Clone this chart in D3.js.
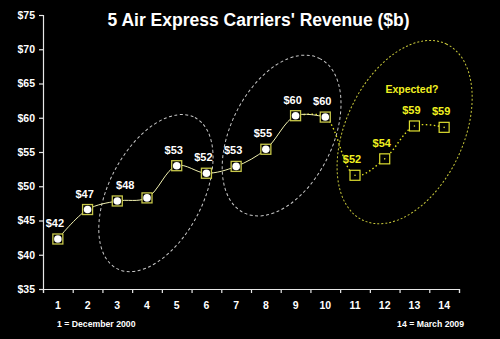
<!DOCTYPE html>
<html>
<head>
<meta charset="utf-8">
<script src="https://cdn.jsdelivr.net/npm/d3@7"></script>
<style>
  html, body { margin: 0; padding: 0; background: #000; }
  svg { display: block; }
</style>
</head>
<body>
<svg id="chart" width="500" height="339"></svg>
<script>
// Periods 1..14 (1 = December 2000, 14 = March 2009)
const periods = [1, 2, 3, 4, 5, 6, 7, 8, 9, 10, 11, 12, 13, 14];
// Reported revenue, periods 1..10 ($b)
const actualPeriods = [1, 2, 3, 4, 5, 6, 7, 8, 9, 10];
const actualValues = [42.3, 46.6, 47.85, 48.3, 53.0, 51.9, 52.9, 55.4, 60.3, 60.1];
// Which reported points carry a value label
const actualLabeled = [true, true, true, false, true, true, true, true, true, true];
// Expected revenue, continuing from period 9 ($b)
const expectedPeriods = [9, 10, 11, 12, 13, 14];
const expectedValues = [60.3, 60.1, 51.6, 54.0, 58.8, 58.6];
const yTicks = [35, 40, 45, 50, 55, 60, 65, 70, 75];
const title = "5 Air Express Carriers' Revenue ($b)";
const noteStart = "1 = December 2000";
const noteEnd = "14 = March 2009";
const expectedNote = "Expected?";

const svg = d3.select("#chart");
const font = "Arial, 'Liberation Sans', sans-serif";
svg.append("rect").attr("width", 500).attr("height", 339).attr("fill", "#000");

const x = d3.scaleLinear().domain([0.5, 14.5]).range([43, 459]);
const y = d3.scaleLinear().domain([35, 75]).range([289, 15]);
const fmt = v => "$" + d3.format(".0f")(v);

// Grouping ellipses (centre in data space, semi-axes in px, tilt in degrees)
const groups = [
  { p: 4.30, v: 49.0, rx: 85, ry: 47, tilt: 62.7, color: "#c8c8c8", dash: "3,2.5" },
  { p: 8.53, v: 57.4, rx: 86, ry: 51, tilt: 63.9, color: "#c8c8c8", dash: "3,2.5" },
  { p: 12.67, v: 57.9, rx: 97.5, ry: 58.8, tilt: 64.7, color: "#c8c83a", dash: "2,2" }
];
svg.append("g").selectAll("ellipse").data(groups).join("ellipse")
  .attr("transform", d => `translate(${x(d.p)},${y(d.v)}) rotate(${-d.tilt})`)
  .attr("rx", d => d.rx).attr("ry", d => d.ry)
  .attr("fill", "none").attr("stroke", d => d.color)
  .attr("stroke-width", 1).attr("stroke-dasharray", d => d.dash);

// Axes
const yAxis = svg.append("g").attr("transform", `translate(${x(0.5)},0)`)
  .call(d3.axisLeft(y).tickValues(yTicks).tickSize(4).tickPadding(4).tickFormat(fmt));
yAxis.select(".domain").attr("stroke", "#e8e8e8").attr("stroke-width", 1.2);
yAxis.selectAll(".tick line").attr("stroke", "#e8e8e8").attr("stroke-width", 1.2);
yAxis.selectAll(".tick text").attr("fill", "#fff").attr("font-family", font)
  .attr("font-weight", "bold").attr("font-size", 10.5);

const xAxis = svg.append("g").attr("transform", `translate(0,${y(35)})`)
  .call(d3.axisBottom(x).tickValues(d3.range(0.5, 15, 1)).tickSize(4).tickFormat(""));
xAxis.select(".domain").attr("stroke", "#e8e8e8").attr("stroke-width", 1.2);
xAxis.selectAll(".tick line").attr("stroke", "#e8e8e8").attr("stroke-width", 1.2);
svg.append("g").selectAll("text").data(periods).join("text")
  .attr("x", d => x(d)).attr("y", 309)
  .attr("text-anchor", "middle").attr("fill", "#fff")
  .attr("font-family", font).attr("font-weight", "bold").attr("font-size", 10.5)
  .text(d => d);

// Expected series: dotted curve behind markers
const expPts = expectedPeriods.map((p, i) => [p, expectedValues[i]]);
const actPts = actualPeriods.map((p, i) => [p, actualValues[i]]);
const line = d3.line().x(d => x(d[0])).y(d => y(d[1])).curve(d3.curveCatmullRom.alpha(0.5));
svg.append("path").datum(expPts).attr("d", line)
  .attr("fill", "none").attr("stroke", "#e0e020").attr("stroke-width", 1.4)
  .attr("stroke-dasharray", "1.5,2.5");
svg.append("path").datum(actPts).attr("d", line)
  .attr("fill", "none").attr("stroke", "#f2f2b0").attr("stroke-width", 1);

// Reported markers
const act = svg.append("g").selectAll("g").data(actPts).join("g")
  .attr("transform", d => `translate(${x(d[0])},${y(d[1])})`);
act.append("rect").attr("x", -5).attr("y", -5).attr("width", 10).attr("height", 10)
  .attr("fill", "#000").attr("stroke", "#c8c84a").attr("stroke-width", 1.3);
act.append("circle").attr("r", 3.8).attr("fill", "#fff");

// Expected markers (periods 11..14)
const expOnly = expPts.filter(d => d[0] > 10);
const exm = svg.append("g").selectAll("g").data(expOnly).join("g")
  .attr("transform", d => `translate(${x(d[0])},${y(d[1])})`);
exm.append("rect").attr("x", -5).attr("y", -5).attr("width", 10).attr("height", 10)
  .attr("fill", "#000").attr("stroke", "#dede30").attr("stroke-width", 1.2);
exm.append("circle").attr("r", 0.8).attr("fill", "#dede30");

// Value labels
const labelShift = { 3: 11 };
svg.append("g").selectAll("text").data(actPts.filter((d, i) => actualLabeled[i])).join("text")
  .attr("x", d => x(d[0]) - 3 + (labelShift[d[0]] || 0))
  .attr("y", d => y(d[1]) - 12)
  .attr("text-anchor", "middle").attr("fill", "#fff")
  .attr("font-family", font).attr("font-weight", "bold").attr("font-size", 11)
  .text(d => fmt(d[1]));
svg.append("g").selectAll("text").data(expOnly).join("text")
  .attr("x", d => x(d[0]) - 3)
  .attr("y", d => y(d[1]) - 12)
  .attr("text-anchor", "middle").attr("fill", "#f0f020")
  .attr("font-family", font).attr("font-weight", "bold").attr("font-size", 11)
  .text(d => fmt(d[1]));

svg.append("text").attr("x", 412).attr("y", 93).attr("text-anchor", "middle")
  .attr("fill", "#f0f020").attr("font-family", font).attr("font-weight", "bold")
  .attr("font-size", 10.5).text(expectedNote);

// Title and notes
svg.append("text").attr("x", 258.5).attr("y", 26).attr("text-anchor", "middle")
  .attr("fill", "#fff").attr("font-family", font).attr("font-weight", "bold")
  .attr("font-size", 17.5).text(title);
svg.append("text").attr("x", 57).attr("y", 327)
  .attr("fill", "#fff").attr("font-family", font).attr("font-weight", "bold")
  .attr("font-size", 8.7).text(noteStart);
svg.append("text").attr("x", 464).attr("y", 327).attr("text-anchor", "end")
  .attr("fill", "#fff").attr("font-family", font).attr("font-weight", "bold")
  .attr("font-size", 8.7).text(noteEnd);
</script>
</body>
</html>
